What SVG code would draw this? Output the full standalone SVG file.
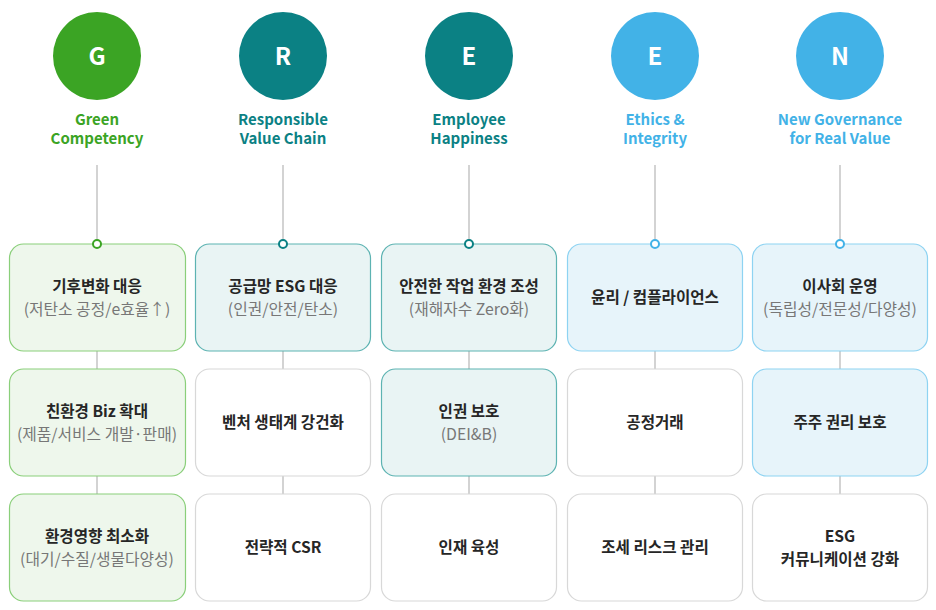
<svg xmlns="http://www.w3.org/2000/svg" width="936" height="610" viewBox="0 0 936 610">
<style>
text{font-family:"Noto Sans CJK KR","Noto Sans",sans-serif;text-anchor:middle}
.L{font-size:24px;font-weight:700;fill:#fff}
.h{font-size:15px;font-weight:700}
.m{font-size:15.6px;font-weight:700;fill:#262626}
.s{font-size:15.8px;font-weight:400;fill:#777}
.bg{fill:#EEF7EC;stroke:#8ACF7A;stroke-width:1.2}
.bt{fill:#E9F4F4;stroke:#5DB3B2;stroke-width:1.2}
.bb{fill:#E7F4FA;stroke:#8ED3F2;stroke-width:1.2}
.bw{fill:#fff;stroke:#D8D8D8;stroke-width:1.2}
.ln{stroke:#C9C9C9;stroke-width:1.6;fill:none}
</style>
<rect width="936" height="610" fill="#fff"/>
<g id="connectors">
<path class="ln" d="M97 165V601M283 165V601M469 165V601M655 165V601M840 165V601"/>
</g>
<g id="col-G">
<circle cx="97" cy="56" r="44" fill="#3BA424"/>
<text class="L" x="97" y="65">G</text>
<text class="h" x="97" y="125" fill="#3BA424">Green</text>
<text class="h" x="97" y="144" fill="#3BA424">Competency</text>
</g>
<g id="col-R">
<circle cx="283" cy="56" r="44" fill="#0B8184"/>
<text class="L" x="283" y="65">R</text>
<text class="h" x="283" y="125" fill="#0B8184">Responsible</text>
<text class="h" x="283" y="144" fill="#0B8184">Value Chain</text>
</g>
<g id="col-E1">
<circle cx="469" cy="56" r="44" fill="#0B8184"/>
<text class="L" x="469" y="65">E</text>
<text class="h" x="469" y="125" fill="#0B8184">Employee</text>
<text class="h" x="469" y="144" fill="#0B8184">Happiness</text>
</g>
<g id="col-E2">
<circle cx="655" cy="56" r="44" fill="#42B2E7"/>
<text class="L" x="655" y="65">E</text>
<text class="h" x="655" y="125" fill="#42B2E7">Ethics &amp;</text>
<text class="h" x="655" y="144" fill="#42B2E7">Integrity</text>
</g>
<g id="col-N">
<circle cx="840" cy="56" r="44" fill="#42B2E7"/>
<text class="L" x="840" y="65">N</text>
<text class="h" x="840" y="125" fill="#42B2E7">New Governance</text>
<text class="h" x="840" y="144" fill="#42B2E7">for Real Value</text>
</g>

<g id="g1"><rect class="bg" x="9.5" y="244" width="176" height="107" rx="14"/>
<text class="m" x="97" y="292">기후변화 대응</text><text class="s" x="97" y="315">(저탄소 공정/e효율↑)</text>
<circle cx="97" cy="244" r="4" fill="#fff" stroke="#3BA424" stroke-width="2"/></g>
<g id="g2"><rect class="bg" x="9.5" y="369" width="176" height="107" rx="14"/>
<text class="m" x="97" y="417">친환경 Biz 확대</text><text class="s" x="97" y="440">(제품/서비스 개발·판매)</text></g>
<g id="g3"><rect class="bg" x="9.5" y="494" width="176" height="107" rx="14"/>
<text class="m" x="97" y="542">환경영향 최소화</text><text class="s" x="97" y="565">(대기/수질/생물다양성)</text></g>

<g id="r1"><rect class="bt" x="195.5" y="244" width="175" height="107" rx="14"/>
<text class="m" x="283" y="292">공급망 ESG 대응</text><text class="s" x="283" y="315">(인권/안전/탄소)</text>
<circle cx="283" cy="244" r="4" fill="#fff" stroke="#0B8184" stroke-width="2"/></g>
<g id="r2"><rect class="bw" x="195.5" y="369" width="175" height="107" rx="14"/>
<text class="m" x="283" y="428">벤처 생태계 강건화</text></g>
<g id="r3"><rect class="bw" x="195.5" y="494" width="175" height="107" rx="14"/>
<text class="m" x="283" y="553">전략적 CSR</text></g>

<g id="e1"><rect class="bt" x="381.5" y="244" width="175" height="107" rx="14"/>
<text class="m" x="469" y="292">안전한 작업 환경 조성</text><text class="s" x="469" y="315">(재해자수 Zero화)</text>
<circle cx="469" cy="244" r="4" fill="#fff" stroke="#0B8184" stroke-width="2"/></g>
<g id="e2"><rect class="bt" x="381.5" y="369" width="175" height="107" rx="14"/>
<text class="m" x="469" y="417">인권 보호</text><text class="s" x="469" y="440">(DEI&amp;B)</text></g>
<g id="e3"><rect class="bw" x="381.5" y="494" width="175" height="107" rx="14"/>
<text class="m" x="469" y="553">인재 육성</text></g>

<g id="t1"><rect class="bb" x="567.5" y="244" width="175" height="107" rx="14"/>
<text class="m" x="655" y="303">윤리 / 컴플라이언스</text>
<circle cx="655" cy="244" r="4" fill="#fff" stroke="#42B2E7" stroke-width="2"/></g>
<g id="t2"><rect class="bw" x="567.5" y="369" width="175" height="107" rx="14"/>
<text class="m" x="655" y="428">공정거래</text></g>
<g id="t3"><rect class="bw" x="567.5" y="494" width="175" height="107" rx="14"/>
<text class="m" x="655" y="553">조세 리스크 관리</text></g>

<g id="n1"><rect class="bb" x="752.5" y="244" width="175" height="107" rx="14"/>
<text class="m" x="840" y="292">이사회 운영</text><text class="s" x="840" y="315">(독립성/전문성/다양성)</text>
<circle cx="840" cy="244" r="4" fill="#fff" stroke="#42B2E7" stroke-width="2"/></g>
<g id="n2"><rect class="bb" x="752.5" y="369" width="175" height="107" rx="14"/>
<text class="m" x="840" y="428">주주 권리 보호</text></g>
<g id="n3"><rect class="bw" x="752.5" y="494" width="175" height="107" rx="14"/>
<text class="m" x="840" y="542">ESG</text><text class="m" x="840" y="565">커뮤니케이션 강화</text></g>
</svg>
